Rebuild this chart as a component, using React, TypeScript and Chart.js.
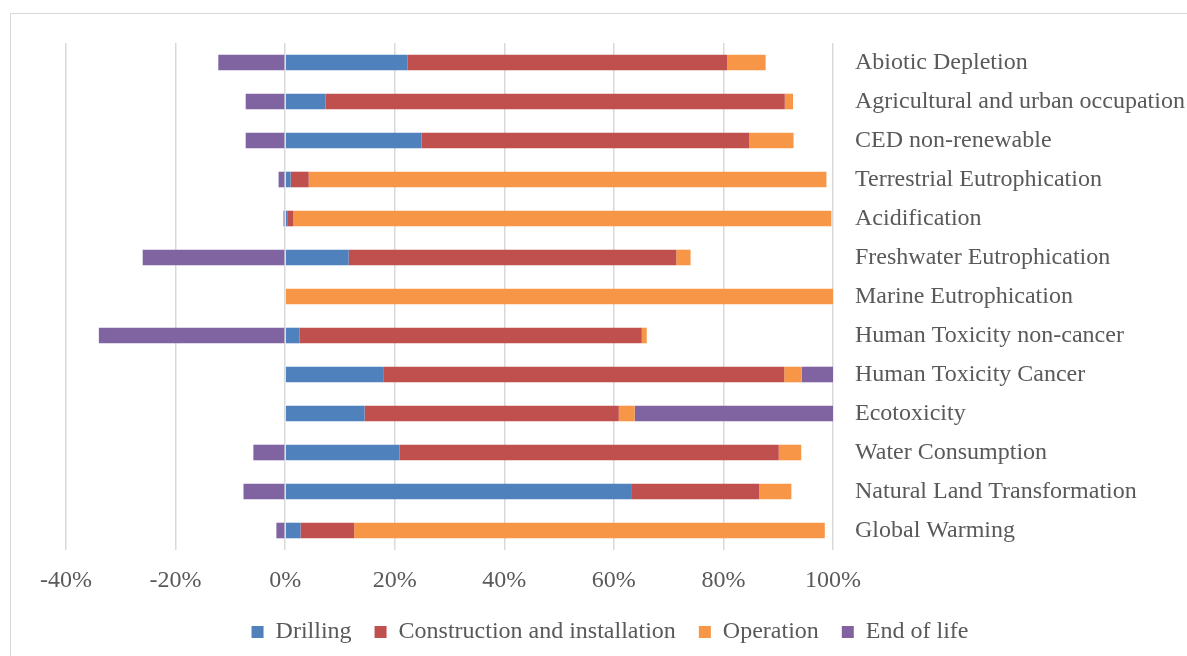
import React, { useEffect, useRef } from "react";
import { Chart, registerables } from "chart.js";

Chart.register(...registerables);

const categories = [
  "Abiotic Depletion",
  "Agricultural and urban occupation",
  "CED non-renewable",
  "Terrestrial Eutrophication",
  "Acidification",
  "Freshwater Eutrophication",
  "Marine Eutrophication",
  "Human Toxicity non-cancer",
  "Human Toxicity Cancer",
  "Ecotoxicity",
  "Water Consumption",
  "Natural Land Transformation",
  "Global Warming",
];

const drilling = [22.3, 7.4, 24.9, 1.0, 0.5, 11.6, 0, 2.6, 17.9, 14.5, 20.9, 63.3, 2.8];
const construction = [58.4, 83.8, 59.8, 3.3, 1.0, 59.8, 0, 62.5, 73.2, 46.4, 69.2, 23.2, 9.8];
const operation = [7.0, 1.5, 8.1, 94.5, 98.2, 2.6, 100, 0.9, 3.2, 2.9, 4.1, 5.9, 85.9];
const endOfLife = [-12.2, -7.2, -7.2, -1.2, -0.3, -26.0, 0, -34.0, 5.7, 36.2, -5.8, -7.6, -1.6];

const seriesNames = ["Drilling", "Construction and installation", "Operation", "End of life"];
const seriesColors = ["#4F81BD", "#C0504D", "#F79646", "#8064A2"];

const xMin = -40;
const xMax = 100;
const xStep = 20;

const FONT = "'Liberation Serif', 'Times New Roman', serif";
const TEXT = "#595959";

const legendShift = {
  id: "legendShift",
  afterLayout(chart: any) {
    const lg = chart.legend;
    if (lg) {
      lg.left -= 16.5;
      lg.right -= 16.5;
    }
  },
};

export default function App() {
  const ref = useRef<HTMLCanvasElement | null>(null);

  useEffect(() => {
    if (!ref.current) return;
    const values = [drilling, construction, operation, endOfLife];
    const chart = new Chart(ref.current, {
      type: "bar",
      data: {
        labels: categories,
        datasets: values.map((d, i) => ({
          label: seriesNames[i],
          data: d,
          backgroundColor: seriesColors[i],
          borderWidth: 0,
          categoryPercentage: 1,
          barPercentage: 0.4,
        })),
      },
      plugins: [legendShift],
      options: {
        indexAxis: "y",
        responsive: false,
        animation: false,
        layout: { padding: { left: 66, top: 43, right: 0, bottom: 2 } },
        plugins: {
          tooltip: { enabled: false },
          legend: {
            position: "bottom",
            labels: {
              boxWidth: 12,
              boxHeight: 12,
              padding: 23,
              color: TEXT,
              font: { family: FONT, size: 24 },
            },
          },
        },
        scales: {
          x: {
            stacked: true,
            min: xMin,
            max: xMax,
            grid: { color: "#d9d9d9", lineWidth: 1.5, drawTicks: false },
            border: { display: false },
            ticks: {
              stepSize: xStep,
              padding: 16,
              color: TEXT,
              font: { family: FONT, size: 24 },
              callback: (v: any) => `${v}%`,
            },
            afterFit: (scale: any) => {
              scale.height = 47;
            },
          },
          y: {
            stacked: true,
            position: "right",
            grid: { display: false, drawTicks: false },
            border: { display: false },
            ticks: {
              padding: 22,
              color: TEXT,
              font: { family: FONT, size: 24 },
            },
            afterFit: (scale: any) => {
              scale.width = 354;
            },
          },
        },
      },
    });
    return () => chart.destroy();
  }, []);

  return (
    <div style={{ position: "absolute", left: 0, top: 0, width: 1187, height: 656, overflow: "hidden", background: "#fff" }}>
      <div
        style={{
          position: "absolute",
          left: 10,
          top: 13,
          width: 1300,
          height: 800,
          border: "1px solid #d9d9d9",
          boxSizing: "border-box",
        }}
      />
      <canvas ref={ref} width={1187} height={656} style={{ position: "absolute", left: 0, top: 0 }} />
    </div>
  );
}
